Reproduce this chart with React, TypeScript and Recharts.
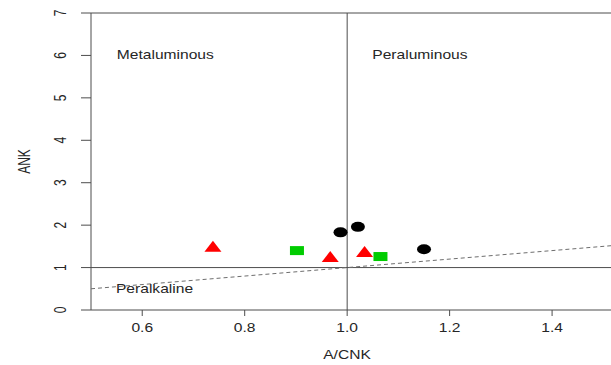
import {
  Label,
  ReferenceLine,
  Scatter,
  ScatterChart,
  XAxis,
  YAxis,
} from "recharts";

// sample groups
const triangleX = [0.738, 0.967, 1.034];
const triangleY = [1.5, 1.26, 1.38];
const squareX = [0.902, 1.065];
const squareY = [1.4, 1.26];
const circleX = [0.987, 1.021, 1.15];
const circleY = [1.83, 1.96, 1.43];

// peralkaline boundary (A/NK = A/CNK)
const boundaryX = [0.5, 1.52];
const boundaryY = [0.5, 1.52];

const regionNames = ["Metaluminous", "Peraluminous", "Peralkaline"];
const regionX = [0.645, 1.142, 0.624];
const regionY = [6, 6, 0.49];

const xTicks = [0.6, 0.8, 1.0, 1.2, 1.4];
const yTicks = [0, 1, 2, 3, 4, 5, 6, 7];

const zip = (xs: number[], ys: number[]) => xs.map((x, i) => ({ x, y: ys[i] }));

const triangles = zip(triangleX, triangleY);
const squares = zip(squareX, squareY);
const circles = zip(circleX, circleY);
const boundary = zip(boundaryX, boundaryY);
const regions = regionNames.map((name, i) => ({ name, x: regionX[i], y: regionY[i] }));

const colors = {
  red: "#ff0000",
  green: "#00cc00",
  black: "#000000",
  axis: "#4d4d4d",
  dash: "#6e6e6e",
  text: "#262626",
};

const FONT = "'Liberation Sans', Arial, sans-serif";
const STRETCH = 1.3;

function XTick({ x, y, payload }: any) {
  return (
    <text
      transform={`translate(${x},${y + 14}) scale(${STRETCH},1)`}
      textAnchor="middle"
      fontSize={12}
      fontFamily={FONT}
      fill={colors.text}
    >
      {Number(payload.value).toFixed(1)}
    </text>
  );
}

function YTick({ x, y, payload }: any) {
  return (
    <text
      transform={`translate(${x - 13},${y}) scale(${STRETCH},1) rotate(-90)`}
      textAnchor="middle"
      fontSize={12}
      fontFamily={FONT}
      fill={colors.text}
    >
      {payload.value}
    </text>
  );
}

function Triangle({ cx, cy }: any) {
  const w = 8.5;
  const h = 5.5;
  return (
    <polygon
      points={`${cx - w},${cy + h} ${cx + w},${cy + h} ${cx},${cy - h}`}
      fill={colors.red}
    />
  );
}

function Square({ cx, cy }: any) {
  return <rect x={cx - 7} y={cy - 4.5} width={14} height={9} fill={colors.green} />;
}

function Dot({ cx, cy }: any) {
  return <ellipse cx={cx} cy={cy} rx={7} ry={5} fill={colors.black} />;
}

function RegionText({ cx, cy, payload }: any) {
  return (
    <text
      transform={`translate(${cx},${cy + 4}) scale(${STRETCH},1)`}
      textAnchor="middle"
      fontSize={12}
      fontFamily={FONT}
      fill={colors.text}
    >
      {payload.name}
    </text>
  );
}

export default function App() {
  return (
    <div style={{ position: "absolute", left: 0, top: 0, width: 611, height: 365, background: "#fff" }}>
      <ScatterChart width={611} height={365} margin={{ top: 13, right: 0, left: 0, bottom: 0 }}>
        <XAxis
          type="number"
          dataKey="x"
          domain={[0.5, 1.515]}
          ticks={xTicks}
          allowDataOverflow
          height={55}
          tickSize={6}
          stroke={colors.axis}
          tickLine={{ stroke: colors.axis }}
          tick={<XTick />}
        >
          <Label
            content={({ viewBox }: any) => (
              <text
                transform={`translate(${viewBox.x + 256},${viewBox.y + 49}) scale(${STRETCH},1)`}
                textAnchor="middle"
                fontSize={12}
                fontFamily={FONT}
                fill={colors.text}
              >
                A/CNK
              </text>
            )}
          />
        </XAxis>
        <YAxis
          type="number"
          dataKey="y"
          domain={[0, 7]}
          ticks={yTicks}
          width={91}
          tickSize={10}
          stroke={colors.axis}
          tickLine={{ stroke: colors.axis }}
          tick={<YTick />}
        >
          <Label
            content={({ viewBox }: any) => (
              <text
                transform={`translate(30,${viewBox.y + viewBox.height / 2}) scale(${STRETCH},1) rotate(-90)`}
                textAnchor="middle"
                fontSize={12}
                fontFamily={FONT}
                fill={colors.text}
              >
                ANK
              </text>
            )}
          />
        </YAxis>

        <ReferenceLine y={7} stroke={colors.axis} />
        <ReferenceLine y={1} stroke={colors.axis} />
        <ReferenceLine x={1} stroke={colors.axis} />

        <Scatter
          data={boundary}
          line={{ stroke: colors.dash, strokeWidth: 1, strokeDasharray: "4 3" }}
          lineType="joint"
          shape={() => <g />}
          isAnimationActive={false}
        />
        <Scatter data={regions} shape={<RegionText />} isAnimationActive={false} />
        <Scatter data={triangles} shape={<Triangle />} isAnimationActive={false} />
        <Scatter data={squares} shape={<Square />} isAnimationActive={false} />
        <Scatter data={circles} shape={<Dot />} isAnimationActive={false} />
      </ScatterChart>
    </div>
  );
}
